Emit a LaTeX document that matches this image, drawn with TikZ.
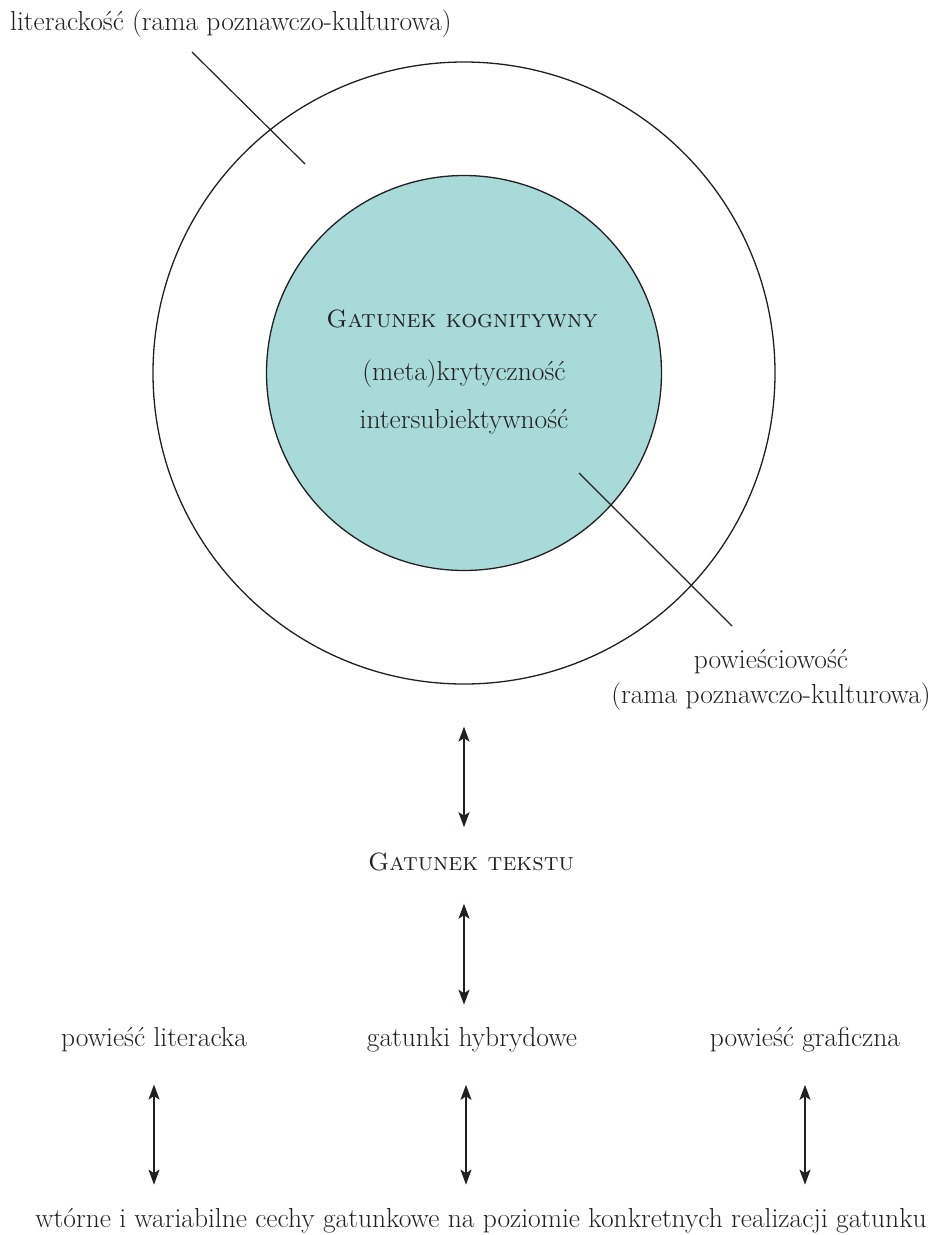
\documentclass[tikz,border=0pt]{standalone}
\usepackage{fontspec}
\usepackage{tikz}
\usetikzlibrary{arrows.meta}
\definecolor{kogfill}{RGB}{167,218,216}
\definecolor{ink}{RGB}{35,31,32}

\begin{document}
\begin{tikzpicture}[x=1pt,y=-1pt,
  txt/.style={inner sep=0pt, text=ink, font=\fontsize{27.5}{33}\selectfont},
  sctxt/.style={txt, font=\fontsize{25}{30}\selectfont\scshape},
  ring/.style={circle, draw=ink, line width=1.3pt, inner sep=0pt},
  pointer/.style={draw=ink, line width=1.2pt},
  twoway/.style={draw=ink, line width=1.7pt,
    {Stealth[length=15pt,width=11pt,inset=3.5pt]}-{Stealth[length=15pt,width=11pt,inset=3.5pt]}}]
\useasboundingbox (0,0) rectangle (934,1235);
% circles
\node[ring, minimum size=622pt] (outer) at (464,373) {};
\node[ring, fill=kogfill, minimum size=395pt] (inner) at (464,373) {};
\node[sctxt, anchor=base] (kog) at (462,327) {Gatunek kognitywny};
\node[txt, anchor=base] (meta) at (464,380) {(meta)krytyczność};
\node[txt, anchor=base] (inter) at (464,428) {intersubiektywność};
% labels of the frames
\node[txt, anchor=base west] (lit) at (10,30) {literackość (rama poznawczo-kulturowa)};
\node[txt, anchor=base] (pow) at (771,668) {powieściowość};
\node[txt, anchor=base] (powrama) at (771,703) {(rama poznawczo-kulturowa)};
\coordinate (litA) at (192,52);
\coordinate (litB) at (305,164);
\coordinate (powA) at (579,473);
\coordinate (powB) at (732,626);
\draw[pointer] (litA) -- (litB);
\draw[pointer] (powA) -- (powB);
% genre levels
\node[sctxt, anchor=base] (tekst) at (471,870) {Gatunek tekstu};
\node[txt, anchor=base] (lrow) at (154,1046) {powieść literacka};
\node[txt, anchor=base] (hrow) at (472,1046) {gatunki hybrydowe};
\node[txt, anchor=base] (grow) at (805,1046) {powieść graficzna};
\node[txt, anchor=base] (wt) at (481,1227) {wtórne i wariabilne cechy gatunkowe na poziomie konkretnych realizacji gatunku};
\draw[twoway, shorten <=42pt, shorten >=25pt] (outer.south) -- (outer.south |- tekst.north);
\draw[twoway, shorten <=33pt, shorten >=22pt] (outer.south |- tekst.south) -- (outer.south |- hrow.north);
\draw[twoway, shorten <=33pt, shorten >=23pt] (lrow.south) -- (lrow.south |- wt.north);
\draw[twoway, shorten <=33pt, shorten >=23pt] ([xshift=-6pt]hrow.south) -- ([xshift=-6pt]hrow.south |- wt.north);
\draw[twoway, shorten <=33pt, shorten >=23pt] (grow.south) -- (grow.south |- wt.north);
\end{tikzpicture}
\end{document}
